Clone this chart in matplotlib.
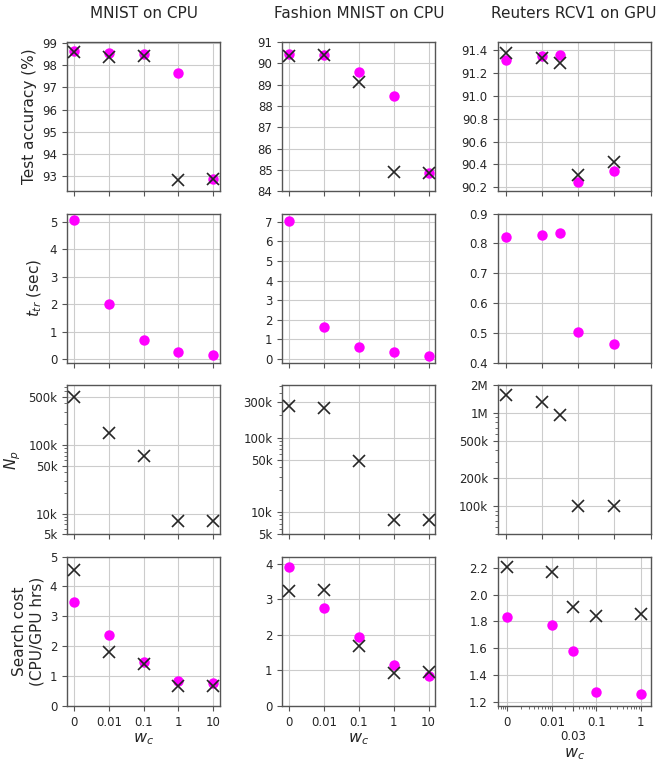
import matplotlib
matplotlib.use("Agg")
import matplotlib.pyplot as plt
from matplotlib.ticker import (FixedLocator, NullFormatter, LogLocator,
                               FormatStrFormatter, MultipleLocator)

# w_c sweep shared by the two CPU datasets (plotted categorically)
wc_labels = ["0", "0.01", "0.1", "1", "10"]
wc_pos = [0, 1, 2, 3, 4]

# Reuters sweep: 0, 0.01, 0.03, 0.1, 1
reuters_pos = [0, 1, 1.5, 2, 3]          # categorical slots, top rows
reuters_wc = [1e-3, 0.01, 0.03, 0.1, 1]  # log axis, 0 drawn at 1e-3
reuters_labels = ["0", "0.01", "0.03", "0.1", "1"]

# MNIST on CPU
mnist_acc_o = [98.63, 98.55, 98.50, 97.63, 92.86]
mnist_acc_x = [98.59, 98.38, 98.44, 92.83, 92.87]
mnist_ttr = [5.06, 2.02, 0.70, 0.28, 0.16]
mnist_np = [490e3, 150e3, 70e3, 7.8e3, 7.8e3]
mnist_cost_o = [3.47, 2.36, 1.48, 0.83, 0.77]
mnist_cost_x = [4.54, 1.80, 1.39, 0.66, 0.68]

# Fashion MNIST on CPU
fash_acc_o = [90.43, 90.37, 89.59, 88.48, 84.84]
fash_acc_x = [90.32, 90.40, 89.12, 84.89, 84.88]
fash_ttr = [7.06, 1.63, 0.63, 0.36, 0.14]
fash_np = [263e3, 249e3, 49e3, 7.8e3, 7.8e3]
fash_cost_o = [3.92, 2.75, 1.94, 1.16, 0.83]
fash_cost_x = [3.24, 3.27, 1.70, 0.93, 0.95]

# Reuters RCV1 on GPU
reut_acc_o = [91.31, 91.35, 91.36, 90.25, 90.34]
reut_acc_x = [91.37, 91.33, 91.29, 90.31, 90.42]
reut_ttr = [0.822, 0.828, 0.834, 0.503, 0.464]
reut_np = [1.57e6, 1.31e6, 0.95e6, 100e3, 100e3]
reut_cost_o = [1.83, 1.77, 1.58, 1.27, 1.255]
reut_cost_x = [2.21, 2.17, 1.905, 1.84, 1.855]

col_titles = ["MNIST on CPU", "Fashion MNIST on CPU", "Reuters RCV1 on GPU"]
row_labels = ["Test accuracy (%)", "$t_{tr}$ (sec)", "$N_p$",
              "Search cost\n(CPU/GPU hrs)"]

np_ticks = [
    ([5e3, 10e3, 50e3, 100e3, 500e3], ["5k", "10k", "50k", "100k", "500k"]),
    ([5e3, 10e3, 50e3, 100e3, 300e3], ["5k", "10k", "50k", "100k", "300k"]),
    ([100e3, 200e3, 500e3, 1e6, 2e6], ["100k", "200k", "500k", "1M", "2M"]),
]

ylims = [
    [(92.32, 99.05), (-0.13, 5.3), (5e3, 7.4e5), (0, 5)],
    [(84, 91), (-0.2, 7.42), (5e3, 5.1e5), (0, 4.2)],
    [(90.165, 91.47), (0.4, 0.9), (5e4, 2e6), (1.168, 2.285)],
]
# major y step for the linear panels (None = log panel)
ysteps = [
    [1, 1, None, 1],
    [1, 1, None, 1],
    [0.2, 0.1, None, 0.2],
]

MAG = "#ff00ff"
INK = "#262626"
SPINE = "#555555"

plt.rcParams.update({
    "font.family": "DejaVu Sans",
    "text.color": INK,
    "axes.labelcolor": INK,
    "xtick.color": SPINE,
    "ytick.color": SPINE,
    "xtick.labelcolor": INK,
    "ytick.labelcolor": INK,
    "axes.edgecolor": SPINE,
})

fig, axes = plt.subplots(4, 3, figsize=(6.64, 7.63), dpi=100)
fig.subplots_adjust(left=0.101, right=0.980, top=0.945, bottom=0.0747,
                    wspace=0.405, hspace=0.148)

data = [
    [(mnist_acc_o, mnist_acc_x), (mnist_ttr, None), (None, mnist_np),
     (mnist_cost_o, mnist_cost_x)],
    [(fash_acc_o, fash_acc_x), (fash_ttr, None), (None, fash_np),
     (fash_cost_o, fash_cost_x)],
    [(reut_acc_o, reut_acc_x), (reut_ttr, None), (None, reut_np),
     (reut_cost_o, reut_cost_x)],
]


def draw(ax, xs, circ, cross):
    if circ is not None:
        ax.plot(xs, circ, "o", color=MAG, ms=7.5, mec="none", zorder=3)
    if cross is not None:
        ax.plot(xs, cross, "x", color=INK, ms=8, mew=1.2, zorder=4)


for c in range(3):
    for r in range(4):
        ax = axes[r, c]
        circ, cross = data[c][r]
        if c < 2:
            xs = wc_pos
        elif r < 3:
            xs = reuters_pos
        else:
            xs = reuters_wc
        draw(ax, xs, circ, cross)

        if r == 2:
            ax.set_yscale("log")
            ticks, labels = np_ticks[c]
            ax.yaxis.set_major_locator(FixedLocator(ticks))
            ax.set_yticklabels(labels)
            ax.yaxis.set_minor_locator(LogLocator(subs="all"))
            ax.yaxis.set_minor_formatter(NullFormatter())
        else:
            ax.yaxis.set_major_locator(MultipleLocator(ysteps[c][r]))
            if c == 2:
                ax.yaxis.set_major_formatter(FormatStrFormatter("%.1f"))
            else:
                ax.yaxis.set_major_formatter(FormatStrFormatter("%d"))
        ax.set_ylim(*ylims[c][r])

        if c == 2 and r == 3:
            ax.set_xscale("log")
            ax.set_xlim(6e-4, 1.68)
            ax.xaxis.set_major_locator(FixedLocator(reuters_wc))
            ax.set_xticklabels(reuters_labels)
            ax.xaxis.set_minor_locator(LogLocator(subs="all"))
            ax.xaxis.set_minor_formatter(NullFormatter())
            # 0.03 sits too close to 0.01, so drop it onto a second line
            ax.xaxis.get_major_ticks()[2].set_pad(14)
        else:
            ax.set_xticks(wc_pos)
            if c < 2:
                ax.set_xlim(-0.2, 4.2)
            else:
                ax.set_xlim(-0.22, 4.0)
            if r == 3:
                ax.set_xticklabels(wc_labels)
            else:
                ax.tick_params(labelbottom=False)

        ax.grid(True, which="major", color="#cccccc", lw=0.8)
        ax.set_axisbelow(True)
        ax.tick_params(labelsize=8.5, length=3.5, width=0.8)
        ax.tick_params(which="minor", length=2, width=0.6)
        for s in ax.spines.values():
            s.set_linewidth(1.0)

        if r == 0:
            ax.set_title(col_titles[c], fontsize=11, pad=17)
        if c == 0:
            ax.set_ylabel(row_labels[r], fontsize=11)
        if r == 3:
            ax.set_xlabel("$w_c$", fontsize=11.5, labelpad=2)

fig.savefig("out.png", dpi=100)
